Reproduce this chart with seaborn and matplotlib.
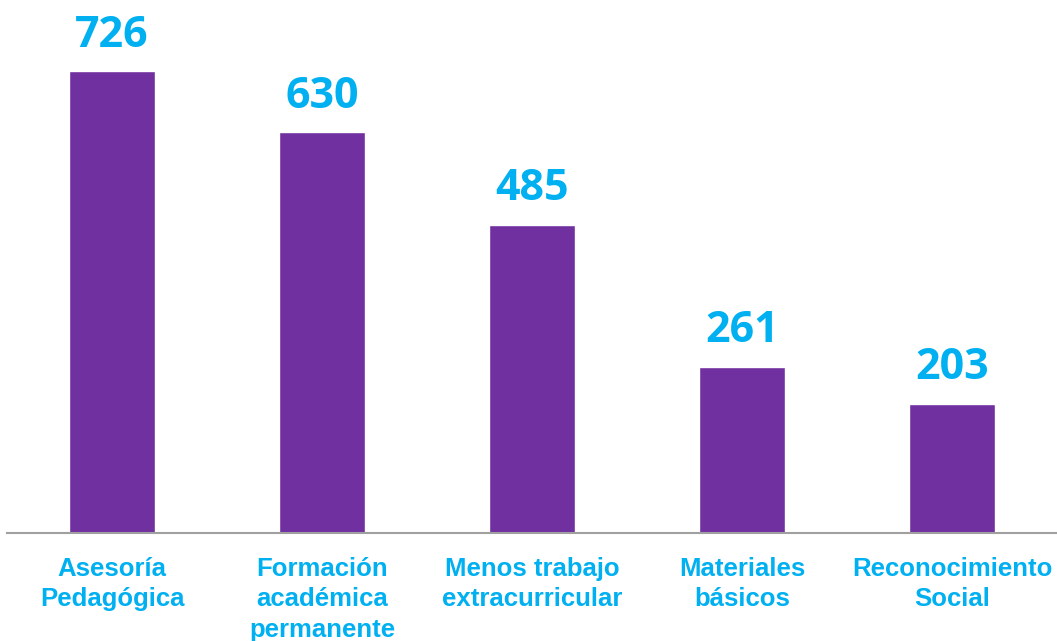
import pandas as pd
import matplotlib
matplotlib.use("Agg")
import matplotlib.pyplot as plt
import seaborn as sns

categories = [
    "Asesoría\nPedagógica",
    "Formación\nacadémica\npermanente",
    "Menos trabajo\nextracurricular",
    "Materiales\nbásicos",
    "Reconocimiento\nSocial",
]
values = [726, 630, 485, 261, 203]

BAR_COLOR = "#7030A0"
TEXT_COLOR = "#00B0F0"

df = pd.DataFrame({"categoria": categories, "valor": values})

sns.set_theme(style="white")
plt.rcParams["font.family"] = ["Liberation Sans", "DejaVu Sans"]

fig = plt.figure(figsize=(10.57, 6.41), dpi=100)
ax = fig.add_axes([7 / 1057, 108 / 641, 1050 / 1057, 533 / 641])

sns.barplot(data=df, x="categoria", y="valor", color=BAR_COLOR,
            width=0.405, saturation=1, ax=ax)

ax.set_ylim(0, 838)
ax.set_xlim(-0.5, 4.5)

# etiquetas de valor sobre cada barra
for i, v in enumerate(values):
    ax.annotate(
        str(v), xy=(i, v), xytext=(0, 10.5), textcoords="offset points",
        ha="center", va="bottom", color=TEXT_COLOR,
        fontsize=31, fontweight="bold", family=["Open Sans", "DejaVu Sans"],
    )

ax.set_xlabel("")
ax.set_ylabel("")
ax.set_yticks([])
ax.tick_params(axis="x", length=0, pad=17)
for lbl in ax.get_xticklabels():
    lbl.set_color(TEXT_COLOR)
    lbl.set_fontsize(18.5)
    lbl.set_fontweight("bold")
    lbl.set_linespacing(1.35)

for side in ["top", "left", "right"]:
    ax.spines[side].set_visible(False)
ax.spines["bottom"].set_color("#A0A0A0")
ax.spines["bottom"].set_linewidth(1.5)

fig.savefig("out.png", dpi=100)
plt.close(fig)
